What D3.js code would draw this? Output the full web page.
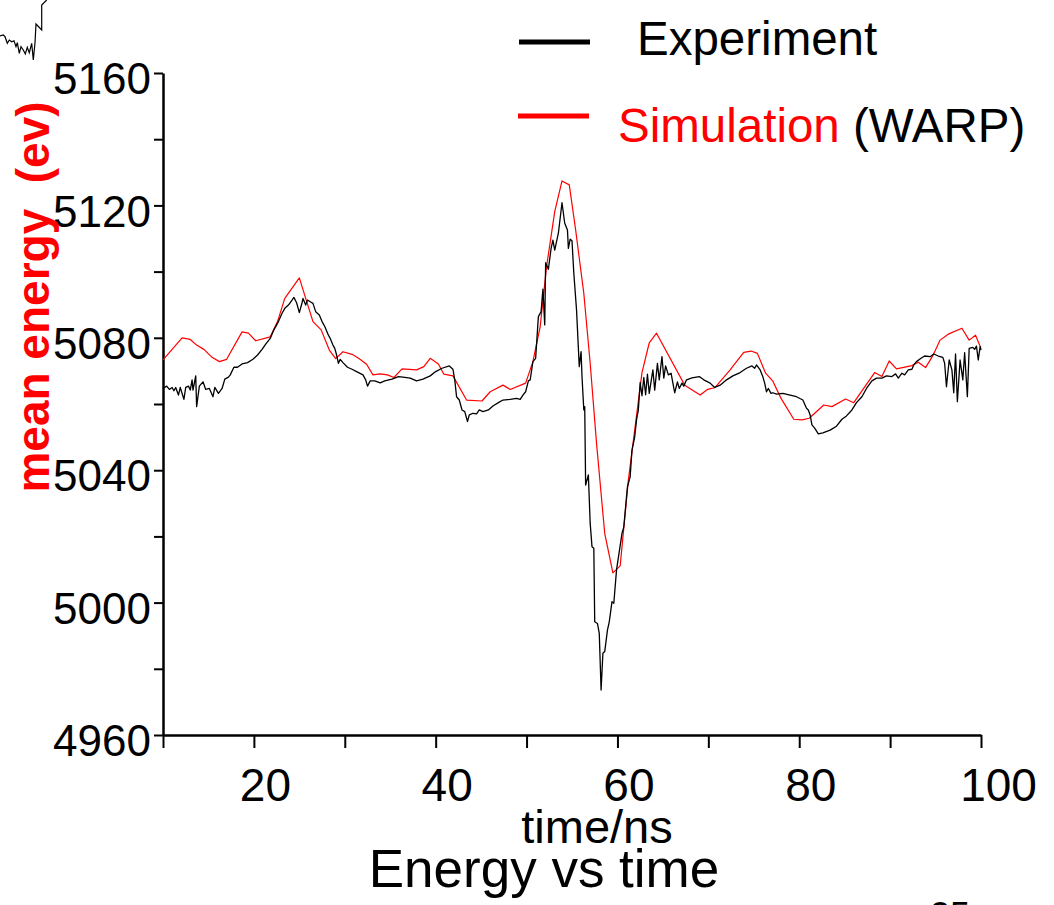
<!DOCTYPE html>
<html>
<head>
<meta charset="utf-8">
<script src="https://cdn.jsdelivr.net/npm/d3@7"></script>
<style>
  html, body { margin: 0; padding: 0; background: #fff; }
  svg { display: block; }
  text { font-family: "Liberation Sans", Arial, sans-serif; }
</style>
</head>
<body>
<svg id="chart" width="1054" height="905"></svg>
<script>
// ---------- data ----------
const expTime = [10.0,10.4,10.7,11.0,11.2,11.4,11.7,11.9,12.3,12.5,12.8,13.0,13.2,13.3,13.6,13.7,14.0,14.4,14.7,15.1,15.5,15.7,16.1,16.5,16.8,17.2,17.4,17.8,18.2,18.7,19.3,19.9,20.4,20.9,21.3,21.8,22.2,22.7,23.1,23.4,23.8,24.2,24.4,24.7,25.0,25.3,25.4,25.7,25.9,26.2,26.5,26.8,27.2,27.5,27.8,28.2,28.4,28.7,28.9,29.1,29.3,29.5,29.8,30.3,30.8,31.3,32.0,32.3,32.5,32.8,33.3,33.9,34.4,35.2,35.9,36.4,37.2,37.9,38.6,39.4,40.0,40.7,41.5,41.9,42.1,42.3,42.6,42.9,43.2,43.5,43.7,44.1,44.5,44.8,45.2,45.8,46.3,46.9,47.4,48.2,48.9,49.3,49.6,49.9,50.2,50.4,50.7,51.0,51.3,51.6,51.8,52.0,52.1,52.4,52.7,52.9,53.1,53.5,53.9,54.2,54.5,54.6,54.8,55.0,55.2,55.5,55.8,56.0,56.1,56.3,56.4,56.5,56.8,57.0,57.2,57.4,57.5,57.8,58.0,58.2,58.4,58.6,58.9,59.1,59.4,59.6,59.9,60.2,60.5,60.7,61.1,61.4,61.6,61.9,62.1,62.3,62.5,62.7,62.9,63.1,63.3,63.5,63.9,64.1,64.4,64.6,64.9,65.1,65.3,65.6,65.9,66.1,66.3,66.6,66.8,67.1,67.3,67.6,68.2,69.0,69.5,70.2,70.7,71.3,72.0,72.7,73.5,74.2,74.8,75.1,75.3,75.7,76.0,76.2,76.4,76.6,76.9,77.1,77.5,78.2,79.0,79.7,80.4,80.8,81.0,81.2,81.4,81.7,82.1,82.6,83.4,84.1,84.7,85.2,85.8,86.3,86.9,87.4,88.0,88.5,89.1,89.6,90.2,90.6,90.9,91.3,91.6,92.0,92.4,92.6,92.9,93.4,93.8,94.4,94.8,95.3,95.8,96.0,96.2,96.5,96.8,97.0,97.2,97.4,97.7,98.0,98.2,98.5,98.7,99.1,99.3,99.5,99.7,99.9,100.0];
const expEnergy = [5064.7,5065.4,5064.4,5065.0,5064.0,5065.0,5062.7,5065.0,5061.4,5065.0,5065.4,5064.2,5067.3,5064.2,5068.5,5059.2,5065.4,5066.7,5064.4,5064.7,5062.2,5065.0,5063.2,5064.7,5067.5,5068.1,5068.8,5071.1,5071.1,5072.1,5072.5,5073.5,5074.8,5076.5,5078.1,5079.8,5082.4,5084.9,5087.4,5088.9,5089.9,5091.4,5092.2,5090.6,5087.6,5090.6,5091.9,5089.9,5091.4,5090.9,5090.4,5087.9,5086.9,5084.9,5083.4,5080.8,5079.8,5077.8,5076.8,5074.8,5072.3,5073.5,5072.5,5071.1,5070.5,5069.8,5068.8,5067.3,5065.4,5067.0,5067.0,5066.4,5067.0,5067.5,5068.3,5068.1,5067.8,5067.0,5067.5,5068.5,5069.8,5070.8,5071.5,5070.5,5067.3,5062.2,5061.2,5058.2,5057.7,5054.7,5056.7,5057.2,5057.0,5058.2,5057.7,5058.2,5059.4,5060.4,5061.2,5061.4,5061.7,5061.4,5062.7,5063.7,5067.0,5067.3,5072.8,5073.8,5086.4,5087.9,5094.7,5083.9,5102.7,5100.7,5107.0,5109.5,5106.5,5111.6,5120.8,5114.6,5112.6,5107.0,5109.8,5109.3,5099.5,5088.4,5071.3,5075.8,5068.3,5058.2,5059.2,5035.5,5038.6,5024.0,5016.9,5016.4,4994.2,4993.7,4990.7,4973.6,4984.7,4985.2,4991.7,4994.2,5000.3,4999.8,5009.9,5015.4,5020.9,5022.9,5035.0,5038.0,5046.1,5050.1,5055.2,5058.2,5066.5,5062.5,5068.0,5062.8,5069.0,5063.2,5070.3,5064.2,5072.3,5067.3,5074.3,5067.8,5071.5,5068.8,5069.3,5066.3,5063.4,5066.7,5064.7,5066.3,5065.4,5067.3,5067.9,5068.3,5067.3,5066.3,5065.0,5065.7,5067.3,5068.5,5069.5,5070.8,5071.5,5070.8,5071.8,5070.3,5068.2,5066.3,5063.7,5064.7,5063.2,5063.4,5063.0,5063.2,5062.7,5062.2,5061.2,5058.7,5058.2,5056.7,5053.7,5052.7,5051.0,5051.3,5052.1,5053.3,5055.4,5056.4,5058.2,5060.4,5062.2,5064.7,5067.0,5067.8,5067.8,5068.5,5068.3,5069.1,5067.8,5069.3,5068.8,5070.3,5070.5,5071.8,5072.8,5073.8,5074.5,5074.3,5075.1,5074.5,5074.1,5072.3,5065.2,5073.3,5070.3,5063.4,5075.1,5060.7,5073.3,5067.3,5075.5,5062.2,5076.8,5077.1,5076.5,5077.5,5073.3,5077.3,5076.3];

const simTime = [10.0,12.1,13.0,13.7,14.5,15.4,16.2,17.0,18.7,19.4,20.2,21.8,22.6,23.4,25.0,26.5,27.4,28.3,29.0,29.8,30.8,31.6,32.4,33.1,33.9,34.7,35.4,36.3,37.9,38.7,39.4,40.3,40.9,41.9,43.4,45.1,46.0,47.4,48.2,49.9,50.7,51.5,52.2,53.1,53.9,54.7,55.4,56.3,57.0,57.7,58.6,59.5,60.3,61.2,61.9,62.7,63.5,64.3,67.4,69.1,69.9,70.7,72.4,73.1,73.9,74.7,75.4,76.3,77.1,78.0,79.4,80.3,81.1,82.7,83.6,85.1,86.0,88.3,89.1,89.9,90.7,92.4,93.1,93.9,94.7,95.5,96.4,97.9,98.7,99.4,100.0];
const simEnergy = [5073.3,5080.0,5079.5,5077.8,5076.5,5074.1,5072.8,5073.5,5081.8,5081.4,5079.1,5080.3,5084.9,5091.9,5098.1,5084.9,5082.4,5076.3,5073.7,5075.8,5075.0,5073.7,5072.0,5068.8,5069.1,5068.8,5068.0,5070.6,5070.3,5071.3,5073.8,5072.1,5069.0,5068.5,5061.2,5060.9,5063.7,5065.7,5064.4,5066.3,5072.8,5083.4,5101.5,5118.1,5127.4,5126.2,5112.6,5093.4,5072.3,5048.1,5020.9,5009.0,5011.1,5037.0,5052.1,5069.5,5078.5,5081.4,5065.7,5062.7,5064.4,5064.9,5070.3,5072.8,5075.6,5076.0,5075.3,5069.3,5066.9,5061.7,5055.4,5055.2,5055.7,5059.7,5059.2,5061.5,5060.4,5069.5,5068.3,5073.0,5070.6,5071.6,5072.6,5071.0,5074.6,5079.3,5081.1,5082.9,5079.3,5080.8,5076.8];

const xTicks = [10,20,30,40,50,60,70,80,90,100];
const xTickLabels = ["","20","","40","","60","","80","","100"];
const yTicks = [4960,4980,5000,5020,5040,5060,5080,5100,5120,5140,5160];
const yTickLabels = ["4960","","5000","","5040","","5080","","5120","","5160"];

const legendLabels = ["Experiment", "Simulation"];
const xTitle = "time/ns";
const yTitle = "mean energy  (ev)";
const chartTitle = "Energy vs time";
const pageNumber = "25";

// fragment of a neighbouring figure cut off at the top-left corner
const fragX = [0,3.3,5,7.3,9.3,11.7,14,16,17.3,19.3,21,23.3,25.3,27.3,29.3,31.7,33.3,35,36,41.7,41.7,46.7];
const fragY = [36,35,36.7,43.3,40,41.7,40.7,46.7,42.7,53.3,46.7,50,54,47.3,52.7,43.3,60,42.7,24,30,5,0];

// ---------- layout ----------
const svg = d3.select("#chart");
const x = d3.scaleLinear().domain([10, 100]).range([163, 981]);
const y = d3.scaleLinear().domain([4960, 5160]).range([735, 73]);

// axes
const yAxis = d3.axisLeft(y).tickValues(yTicks).tickSize(9).tickSizeOuter(0)
  .tickFormat((d, i) => yTickLabels[i]);
const gy = svg.append("g").attr("transform", `translate(${x.range()[0]},0)`).call(yAxis);
gy.select(".domain").attr("stroke", "#000").attr("stroke-width", 2.5);
gy.selectAll(".tick line").attr("stroke", "#000").attr("stroke-width", 2);
gy.selectAll(".tick text")
  .attr("x", -12).attr("dy", "0.47em")
  .attr("font-size", 44).attr("fill", "#000")
  .attr("font-family", "Liberation Sans, Arial, sans-serif");

const xAxis = d3.axisBottom(x).tickValues(xTicks).tickSize(13).tickSizeOuter(0)
  .tickFormat((d, i) => xTickLabels[i]);
const gx = svg.append("g").attr("transform", `translate(0,${y.range()[0]})`).call(xAxis);
gx.select(".domain").attr("stroke", "#000").attr("stroke-width", 2.5);
gx.selectAll(".tick line").attr("stroke", "#000").attr("stroke-width", 2);
gx.selectAll(".tick text")
  .attr("x", d => d === 100 ? 17 : 11).attr("y", 66).attr("dy", 0)
  .attr("font-size", 46).attr("fill", "#000")
  .attr("font-family", "Liberation Sans, Arial, sans-serif");

// lines
const line = d3.line().x(d => x(d[0])).y(d => y(d[1]));
const simData = simTime.map((t, i) => [t, simEnergy[i]]);
const expData = expTime.map((t, i) => [t, expEnergy[i]]);

svg.append("path").datum(simData)
  .attr("fill", "none").attr("stroke", "#ff0000").attr("stroke-width", 1.2)
  .attr("stroke-linejoin", "round").attr("d", line);
svg.append("path").datum(expData)
  .attr("fill", "none").attr("stroke", "#000").attr("stroke-width", 1.3)
  .attr("stroke-linejoin", "round").attr("d", line);

// fragment (own scale)
const fx = d3.scaleLinear().domain([0, 50]).range([0, 50]);
const fy = d3.scaleLinear().domain([0, 60]).range([0, 60]);
svg.append("path").datum(fragX.map((v, i) => [v, fragY[i]]))
  .attr("fill", "none").attr("stroke", "#000").attr("stroke-width", 1.2)
  .attr("d", d3.line().x(d => fx(d[0])).y(d => fy(d[1])));

// axis titles
svg.append("text").attr("x", 597).attr("y", 843).attr("text-anchor", "middle")
  .attr("font-size", 47).attr("fill", "#000").text(xTitle);
svg.append("text").attr("x", 544).attr("y", 887).attr("text-anchor", "middle")
  .attr("font-size", 53).attr("fill", "#000").text(chartTitle);
svg.append("text")
  .attr("transform", "translate(49,297) rotate(-90)")
  .attr("text-anchor", "middle").attr("font-size", 46).attr("font-weight", "bold")
  .attr("fill", "#ff0000").style("white-space", "pre").text(yTitle);

// legend
const leg = svg.append("g");
leg.append("line").attr("x1", 519).attr("x2", 590).attr("y1", 42).attr("y2", 42)
  .attr("stroke", "#000").attr("stroke-width", 5);
leg.append("text").attr("x", 637).attr("y", 55).attr("font-size", 47.5).attr("fill", "#000")
  .text(legendLabels[0]);
leg.append("line").attr("x1", 518).attr("x2", 589).attr("y1", 116).attr("y2", 116)
  .attr("stroke", "#ff0000").attr("stroke-width", 5);
const t2 = leg.append("text").attr("x", 618).attr("y", 142).attr("font-size", 47.5);
t2.append("tspan").attr("fill", "#ff0000").text(legendLabels[1]);
t2.append("tspan").attr("fill", "#000").style("white-space", "pre").text(" (WARP)");

// page number, cut off at bottom
svg.append("text").attr("x", 950).attr("y", 928).attr("text-anchor", "middle")
  .attr("font-size", 36).attr("fill", "#000").text(pageNumber);
</script>
</body>
</html>
